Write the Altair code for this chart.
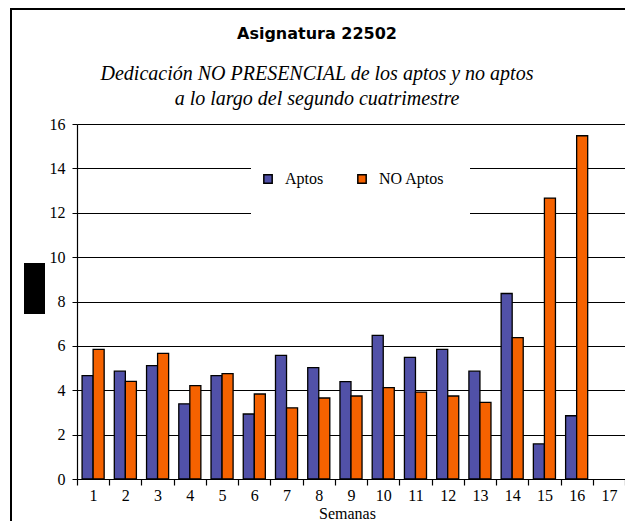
import altair as alt
import pandas as pd

weeks = [str(i) for i in range(1, 18)]
aptos = [4.66, 4.86, 5.11, 3.39, 4.66, 2.93, 5.57, 5.02, 4.39, 6.47, 5.48, 5.84, 4.86, 8.36, 1.58, 2.85]
no_aptos = [5.84, 4.40, 5.66, 4.21, 4.75, 3.83, 3.21, 3.65, 3.74, 4.12, 3.92, 3.74, 3.45, 6.37, 12.66, 15.47]
series = ["Aptos", "NO Aptos"]
colors = ["#5151A8", "#F56200"]
y_ticks = [0, 2, 4, 6, 8, 10, 12, 14, 16]

rows = []
for i, v in enumerate(aptos):
    rows.append({"Semana": weeks[i], "Serie": series[0], "Horas": v})
for i, v in enumerate(no_aptos):
    rows.append({"Semana": weeks[i], "Serie": series[1], "Horas": v})
df = pd.DataFrame(rows)

W, H = 548, 355
serif = "'Liberation Serif', 'DejaVu Serif', serif"

bars = alt.Chart(df).mark_bar(stroke="black", strokeWidth=1.3).encode(
    x=alt.X("Semana:N", sort=weeks,
            scale=alt.Scale(domain=weeks, paddingInner=0, paddingOuter=0),
            axis=alt.Axis(title="Semanas", labelAngle=0, tickBand="extent",
                          labelFont=serif, labelFontSize=16, labelColor="black",
                          labelPadding=2, tickSize=6, tickColor="black", tickWidth=1.2,
                          domainColor="black", domainWidth=1.2,
                          titleFont=serif, titleFontSize=16, titleFontWeight="normal",
                          titleColor="black", titleX=270, titleY=39,
                          titleAnchor="middle", titleBaseline="alphabetic", grid=False)),
    xOffset=alt.XOffset("Serie:N", sort=series,
                        scale=alt.Scale(domain=series, paddingInner=0, paddingOuter=0.46)),
    y=alt.Y("Horas:Q", scale=alt.Scale(domain=[0, 16], nice=False),
            axis=alt.Axis(title=None, values=y_ticks, grid=True, gridColor="black",
                          gridWidth=1, gridOpacity=1, tickSize=5, tickColor="black",
                          domainColor="black", domainWidth=1.2,
                          labelFont=serif, labelFontSize=16, labelColor="black",
                          labelPadding=7)),
    color=alt.Color("Serie:N", sort=series,
                    scale=alt.Scale(domain=series, range=colors),
                    legend=alt.Legend(title=None, orient="none", direction="horizontal",
                                      legendX=183, legendY=47,
                                      symbolType="square", symbolSize=70,
                                      symbolStrokeColor="black", symbolStrokeWidth=1.5,
                                      symbolOpacity=1,
                                      labelFont=serif, labelFontSize=16, labelColor="black",
                                      columnPadding=30, labelOffset=9)),
)

legend_bg = alt.Chart(pd.DataFrame({"a": [0]})).mark_rect(color="white").encode(
    x=alt.value(174), x2=alt.value(393), y=alt.value(20), y2=alt.value(112)
)

black_box = alt.Chart(pd.DataFrame({"a": [0]})).mark_rect(color="black").encode(
    x=alt.value(-53), x2=alt.value(-32), y=alt.value(139), y2=alt.value(190)
)

frame_left = alt.Chart(pd.DataFrame({"a": [0]})).mark_rule(color="black", strokeWidth=2).encode(
    x=alt.value(-66), y=alt.value(-116), y2=alt.value(H + 42)
)
frame_top = alt.Chart(pd.DataFrame({"a": [0]})).mark_rule(color="black", strokeWidth=2).encode(
    x=alt.value(-66), x2=alt.value(W), y=alt.value(-115)
)

chart = alt.layer(legend_bg, bars, black_box, frame_left, frame_top).properties(
    width=W, height=H,
    autosize=alt.AutoSizeParams(type="none"),
    padding={"left": 69, "top": 116, "right": 0, "bottom": 42},
    title=alt.Title(
        "Asignatura 22502",
        subtitle=["Dedicación NO PRESENCIAL de los aptos y no aptos",
                  "a lo largo del segundo cuatrimestre"],
        anchor="middle", dx=-34, offset=-102,
        font="DejaVu Sans", fontSize=16, fontWeight="bold", color="black",
        subtitleFont=serif, subtitleFontSize=20, subtitleFontStyle="italic",
        subtitleColor="black", subtitlePadding=22, subtitleLineHeight=25,
    ),
).configure_view(stroke=None).configure(background="white").configure_axis(
    labelFont=serif, titleFont=serif
).configure_legend(labelFont=serif)

chart.save("out.html", embed_options={"renderer": "svg", "actions": False})
